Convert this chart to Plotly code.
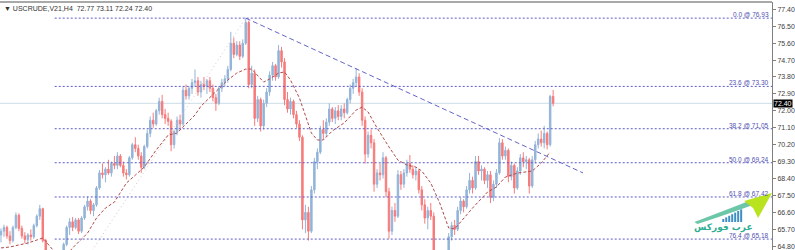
import plotly.graph_objects as go

# ---------------- data ----------------
symbol_header = "▼ USCRUDE,V21,H4  72.77 73.11 72.24 72.40"

opens = [65.40,65.60,65.80,65.35,65.10,65.80,66.45,65.75,65.35,65.15,
         65.40,65.30,65.90,66.40,66.80,65.10,64.40,63.30,62.50,63.00,
         63.70,64.30,64.90,65.80,66.10,65.80,66.20,65.60,66.30,66.90,
         67.20,66.70,67.00,67.90,68.70,68.60,68.90,68.70,69.20,69.10,
         69.60,69.10,68.70,68.60,69.50,70.20,70.00,69.60,69.00,70.10,
         70.80,71.50,71.30,72.00,72.50,71.80,71.60,71.45,70.20,70.90,
         71.50,71.30,73.10,72.80,73.20,73.50,73.60,73.00,73.40,73.30,
         73.60,73.20,72.70,72.40,73.20,73.50,73.70,74.20,75.60,75.00,
         75.50,74.90,75.60,76.70,73.40,74.00,71.60,72.60,71.20,72.40,
         73.00,73.90,74.40,73.80,75.20,74.60,72.60,72.10,72.50,71.80,
         71.30,70.60,66.20,66.60,65.60,67.80,69.30,69.80,71.00,70.80,
         71.40,72.10,71.60,72.00,71.70,72.10,71.90,72.60,73.20,73.50,
         73.80,73.00,71.50,69.70,70.70,70.30,68.10,68.70,68.60,69.50,
         67.70,65.60,66.70,66.40,68.60,68.10,68.70,69.20,68.90,68.60,
         68.80,67.80,67.00,66.30,66.70,66.40,64.55,64.10,64.30,63.90,
         64.40,65.30,65.90,65.70,66.70,67.20,66.90,67.80,68.30,67.90,
         69.30,68.80,68.90,68.30,68.60,67.40,68.10,68.70,70.30,69.60,
         69.90,68.50,69.10,67.90,68.80,69.50,69.30,69.40,68.00,69.40,
         70.20,70.50,70.30,70.80,70.20,72.77]
highs = [65.75,65.95,65.90,65.60,65.90,66.60,66.55,65.90,65.55,65.50,
         65.70,66.00,66.50,67.00,66.85,65.20,64.50,63.50,63.20,63.90,
         64.50,65.00,65.90,66.30,66.35,66.30,66.30,66.40,67.00,67.45,
         67.30,67.10,68.00,68.85,69.20,69.00,69.40,69.30,69.60,69.80,
         69.70,69.30,68.90,69.60,70.30,70.60,70.20,69.80,70.20,71.00,
         71.70,71.90,72.10,72.70,72.85,72.10,71.90,71.55,71.00,71.70,
         71.80,73.30,73.40,73.30,73.70,74.20,73.80,73.60,73.80,73.70,
         73.80,73.40,72.90,73.30,73.70,73.90,74.40,76.20,75.90,75.70,
         75.70,75.80,76.93,76.80,74.40,74.20,72.80,72.70,72.60,73.20,
         74.10,74.60,74.50,75.50,75.40,74.80,73.00,72.70,72.60,72.00,
         71.50,70.70,67.00,66.90,68.00,69.50,70.00,71.20,71.50,71.60,
         72.40,72.20,72.20,72.30,72.30,72.40,72.70,73.40,73.70,74.27,
         74.00,73.20,71.70,70.90,71.00,70.50,68.90,69.20,69.80,69.60,
         67.90,66.90,67.10,68.85,68.80,68.90,69.40,69.65,69.10,69.00,
         68.90,68.00,67.30,66.90,67.10,66.60,64.58,64.40,64.50,64.50,
         65.50,66.10,66.20,66.90,67.40,67.30,68.00,68.70,68.50,69.60,
         69.60,69.10,69.00,68.80,68.80,68.30,68.90,70.55,70.50,70.10,
         70.00,69.30,69.20,69.00,69.70,69.80,69.60,69.50,69.60,70.40,
         70.80,70.95,71.20,70.90,72.85,73.11]
lows = [65.00,65.30,65.20,64.90,65.00,65.70,65.60,65.20,64.95,64.90,
        65.10,65.20,65.80,66.20,65.00,64.30,63.10,62.30,61.55,62.80,
        63.50,64.20,64.80,65.40,65.60,65.70,65.45,65.50,66.20,66.70,
        66.50,66.40,66.90,67.80,68.40,68.20,68.60,68.50,68.90,68.90,
        69.00,68.50,68.35,68.50,69.40,69.80,69.40,68.70,68.90,70.00,
        70.60,71.10,71.20,71.80,71.60,71.30,71.20,69.85,70.00,70.70,
        71.00,71.20,72.60,72.60,72.90,73.30,72.80,72.70,73.10,72.90,
        73.00,72.50,72.00,72.30,73.00,73.30,73.50,74.10,74.80,74.90,
        74.70,74.80,75.50,73.20,73.20,71.20,71.40,70.90,71.00,72.20,
        72.80,73.60,73.60,73.70,74.30,72.30,71.90,71.80,71.60,71.10,
        70.40,65.70,65.50,65.10,65.50,67.60,68.90,69.70,70.50,70.60,
        71.20,71.40,71.30,71.50,71.50,71.60,71.80,72.40,72.90,73.30,
        72.80,71.20,69.20,69.50,70.00,67.70,67.90,68.30,68.40,67.40,
        65.20,65.40,66.10,66.30,67.80,67.90,68.50,68.70,68.40,68.30,
        67.60,66.70,66.00,65.70,66.20,64.45,63.90,63.70,63.60,63.80,
        64.30,65.10,65.40,65.60,66.50,66.60,66.80,67.60,67.60,67.80,
        68.60,68.30,68.10,67.90,67.10,67.20,67.90,68.60,69.40,69.40,
        68.20,68.30,67.60,67.80,68.60,69.00,68.90,67.60,67.90,69.20,
        70.00,70.10,70.00,69.95,70.10,72.24]
closes = [65.60,65.80,65.35,65.10,65.80,66.45,65.75,65.35,65.15,65.40,
          65.30,65.90,66.40,66.80,65.10,64.40,63.30,62.50,63.00,63.70,
          64.30,64.90,65.80,66.10,65.80,66.20,65.60,66.30,66.90,67.20,
          66.70,67.00,67.90,68.70,68.60,68.90,68.70,69.20,69.10,69.60,
          69.10,68.70,68.60,69.50,70.20,70.00,69.60,69.00,70.10,70.80,
          71.50,71.30,72.00,72.50,71.80,71.60,71.45,70.20,70.90,71.50,
          71.30,73.10,72.80,73.20,73.50,73.60,73.00,73.40,73.30,73.60,
          73.20,72.70,72.40,73.20,73.50,73.70,74.20,75.60,75.00,75.50,
          74.90,75.60,76.70,73.40,74.00,71.60,72.60,71.20,72.40,73.00,
          73.90,74.40,73.80,75.20,74.60,72.60,72.10,72.50,71.80,71.30,
          70.60,66.20,66.60,65.60,67.80,69.30,69.80,71.00,70.80,71.40,
          72.10,71.60,72.00,71.70,72.10,71.90,72.60,73.20,73.50,73.80,
          73.00,71.50,69.70,70.70,70.30,68.10,68.70,68.60,69.50,67.70,
          65.60,66.70,66.40,68.60,68.10,68.70,69.20,68.90,68.60,68.80,
          67.80,67.00,66.30,66.70,66.40,64.55,64.10,64.30,63.90,64.40,
          65.30,65.90,65.70,66.70,67.20,66.90,67.80,68.30,67.90,69.30,
          68.80,68.90,68.30,68.60,67.40,68.10,68.70,70.30,69.60,69.90,
          68.50,69.10,67.90,68.80,69.50,69.30,69.40,68.00,69.40,70.20,
          70.50,70.30,70.80,70.20,72.77,72.40]
bar_index = list(range(len(closes)))

# moving-average line read at sampled bars
ma_index = [0,3,6,9,12,14,16,18,20,22,24,26,29,32,35,38,42,45,48,52,56,59,62,65,67,
            70,73,76,79,82,84,86,88,90,93,95,97,100,102,104,106,108,111,115,119,121,
            123,126,130,133,136,139,141,144,147,150,152,155,158,163,166,169,173,178,181,184]
ma_values = [64.71,64.76,64.87,64.97,65.13,65.24,64.87,64.49,64.28,64.33,64.71,65.02,65.50,
             66.30,66.83,67.15,68.16,68.58,69.01,69.92,70.71,70.82,71.30,71.78,72.25,
             72.73,73.21,73.64,74.01,74.22,74.22,73.85,73.53,73.69,74.01,74.07,73.64,
             72.68,71.78,70.82,70.45,70.45,70.93,71.36,72.04,72.20,71.94,71.09,70.08,
             69.38,69.12,69.01,68.80,68.16,67.10,65.77,65.72,66.30,66.83,67.68,67.95,
             68.48,68.69,68.80,69.22,69.81]

# Fibonacci retracement
fib_levels = ["0.0", "23.6", "38.2", "50.0", "61.8", "76.4"]
fib_prices = [76.93, 73.30, 71.05, 69.24, 67.42, 65.18]
fib_anchor_index = [18, 82]
fib_anchor_price = [61.55, 76.93]

# descending trendline
trend_index = [82, 195]
trend_price = [76.93, 68.70]

last_price = 72.40
tick_vals = [64.80, 65.70, 66.60, 67.50, 68.40, 69.30, 70.20, 71.10,
             72.00, 72.90, 73.80, 74.70, 75.60, 76.50, 77.40]
tick_text = ["64.80", "65.70", "66.60", "67.50", "68.40", "69.30", "70.20", "71.10",
             "72.00", "72.90", "73.80", "74.70", "75.60", "76.50", "77.40"]
logo_text = "عرب فوركس"

# ---------------- layout constants ----------------
W, H = 795, 250
PLOT_W = 776            # plot area width in px
TOP = 2                 # top margin
PLOT_H = H - TOP
X_RANGE = [-1 / 3, (PLOT_W - 1) / 3]
Y_RANGE = [64.60, 77.788]

fig = go.Figure()

fig.add_trace(go.Candlestick(
    x=bar_index, open=opens, high=highs, low=lows, close=closes,
    increasing=dict(line=dict(color="#93b4d8", width=1), fillcolor="#93b4d8"),
    decreasing=dict(line=dict(color="#f77b7b", width=1), fillcolor="#f77b7b"),
    whiskerwidth=0, hoverinfo="skip", showlegend=False,
))

# fib diagonal
fig.add_trace(go.Scatter(
    x=fib_anchor_index, y=fib_anchor_price, mode="lines",
    line=dict(color="#dcc6c6", width=1, dash="1px,3px"),
    hoverinfo="skip", showlegend=False,
))

# moving average
fig.add_trace(go.Scatter(
    x=ma_index, y=ma_values, mode="lines",
    line=dict(color="#b04a4a", width=1, dash="3px,2px"),
    hoverinfo="skip", showlegend=False,
))

# trendline
fig.add_trace(go.Scatter(
    x=trend_index, y=trend_price, mode="lines",
    line=dict(color="#6464c8", width=1, dash="5px,3px"),
    hoverinfo="skip", showlegend=False,
))

shapes = []
annotations = []

# current price line
shapes.append(dict(type="line", xref="paper", x0=0, x1=1, yref="y", y0=last_price, y1=last_price,
                   line=dict(color="#cfdde6", width=1), layer="below"))

# fib levels
for lvl, p in zip(fib_levels, fib_prices):
    shapes.append(dict(type="line", xref="x", x0=fib_anchor_index[0], x1=X_RANGE[1],
                       yref="y", y0=p, y1=p,
                       line=dict(color="#5a5ac8", width=1, dash="2px,2px")))
    annotations.append(dict(xref="paper", x=0.999, xanchor="right", yref="y", y=p,
                            yanchor="bottom", yshift=-2, showarrow=False,
                            text=f"{lvl} @ {p:.2f}",
                            font=dict(family="Liberation Sans", size=6.5, color="#5050b0")))

# top border
shapes.append(dict(type="line", xref="paper", x0=0, x1=1, yref="paper", y0=1, y1=1,
                   line=dict(color="#8c8c8c", width=1.5)))

# header
annotations.append(dict(xref="paper", x=0.003, xanchor="left", yref="paper", y=0.995,
                        yanchor="top", showarrow=False, text=symbol_header,
                        font=dict(family="Liberation Sans", size=7, color="#333333")))

# current price box
annotations.append(dict(xref="paper", x=1, xanchor="left", xshift=1, yref="y", y=last_price,
                        showarrow=False, text=f"{last_price:.2f}", bgcolor="#000000",
                        borderpad=0, font=dict(family="Liberation Sans", size=7, color="#ffffff")))


# logo (positions in px -> paper)
def px(x, y):
    return f"{x / PLOT_W:.4f},{(H - y) / PLOT_H:.4f}"


tail = ("M " + px(698, 222) + " Q " + px(735, 208) + " " + px(758, 199) +
        " L " + px(762, 203) + " Q " + px(738, 212) + " " + px(701, 224) + " Z")
shapes.append(dict(type="path", xref="paper", yref="paper", path=tail,
                   fillcolor="#6cc6a8", line=dict(width=0)))
head = ("M " + px(748, 201) + " L " + px(776, 193) + " L " + px(762, 218) +
        " L " + px(757, 208) + " Z")
shapes.append(dict(type="path", xref="paper", yref="paper", path=head,
                   fillcolor="#b9e31f", line=dict(width=0)))
for k in range(7):
    bx = 726 + 3 * k
    top_y = 219 - 1.6 * k
    shapes.append(dict(type="rect", xref="paper", yref="paper",
                       x0=bx / PLOT_W, x1=(bx + 2) / PLOT_W,
                       y0=(H - 222) / PLOT_H, y1=(H - top_y) / PLOT_H,
                       fillcolor="#3f8fc4", line=dict(width=0)))
annotations.append(dict(xref="paper", x=727 / PLOT_W, xanchor="center", yref="paper",
                        y=(H - 227) / PLOT_H, yanchor="middle", showarrow=False,
                        text=f"<b>{logo_text}</b>",
                        font=dict(family="DejaVu Sans", size=9, color="#2fae92")))

fig.update_layout(
    width=W, height=H,
    margin=dict(l=0, r=W - PLOT_W, t=TOP, b=0, pad=0),
    paper_bgcolor="#ffffff", plot_bgcolor="#ffffff",
    shapes=shapes, annotations=annotations,
    xaxis=dict(range=X_RANGE, visible=False, rangeslider=dict(visible=False), fixedrange=True),
    yaxis=dict(range=Y_RANGE, side="right", showgrid=False, zeroline=False,
               tickmode="array", tickvals=tick_vals, ticktext=tick_text,
               ticks="outside", ticklen=3, tickcolor="#808080",
               showline=True, linecolor="#808080", linewidth=1,
               tickfont=dict(family="Liberation Sans", size=7, color="#404040"),
               fixedrange=True),
    showlegend=False,
)

fig.write_html("out.html", config={"displayModeBar": False})
